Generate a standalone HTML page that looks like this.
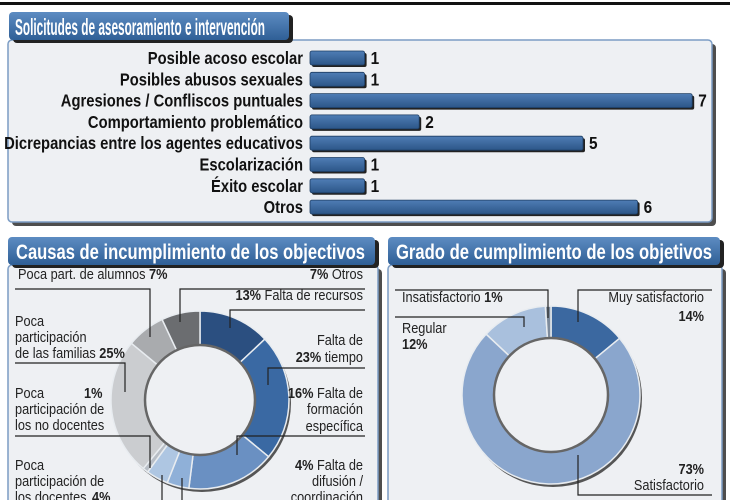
<!DOCTYPE html>
<html><head><meta charset="utf-8">
<style>
html,body{margin:0;padding:0;background:#fff;}
svg{display:block;font-family:"Liberation Sans",sans-serif;}
</style></head>
<body>
<svg id="chart" width="730" height="500" viewBox="0 0 730 500" xmlns="http://www.w3.org/2000/svg">
<defs>
<linearGradient id="tab" x1="0" y1="0" x2="0" y2="1"><stop offset="0" stop-color="#5d8cc2"/><stop offset="1" stop-color="#2f5f96"/></linearGradient>
<linearGradient id="bar" x1="0" y1="0" x2="0" y2="1"><stop offset="0" stop-color="#4f7db5"/><stop offset="1" stop-color="#2c5688"/></linearGradient>
</defs>
<rect x="0" y="2" width="730" height="3" fill="#111"/>
<!-- panel 1 -->
<rect x="12" y="44" width="704" height="182" rx="4" fill="#222" opacity="0.8"/>
<rect x="8" y="40" width="704" height="182" rx="4" fill="#eef0f3" stroke="#7b9cc4" stroke-width="1.5"/>
<rect x="13" y="15" width="280" height="28" rx="4" fill="#222"/>
<rect x="9" y="12" width="280" height="28" rx="4" fill="url(#tab)"/>
<text x="15" y="35" textLength="250" lengthAdjust="spacingAndGlyphs" font-size="23" font-weight="bold" fill="#fff">Solicitudes de asesoramiento e intervención</text>
<g id="bars"></g>
<!-- panel 2 -->
<rect x="12" y="269" width="370" height="240" rx="4" fill="#222" opacity="0.8"/>
<rect x="8" y="265" width="370" height="240" rx="4" fill="#eef0f3" stroke="#7b9cc4" stroke-width="1.5"/>
<rect x="12" y="240" width="367" height="28" rx="4" fill="#222"/>
<rect x="8" y="237" width="367" height="28" rx="4" fill="url(#tab)"/>
<text x="16" y="259" textLength="349" lengthAdjust="spacingAndGlyphs" font-size="21" font-weight="bold" fill="#fff">Causas de incumplimiento de los objectivos</text>
<!-- panel 3 -->
<rect x="392" y="269" width="334" height="240" rx="4" fill="#222" opacity="0.8"/>
<rect x="388" y="265" width="334" height="240" rx="4" fill="#eef0f3" stroke="#7b9cc4" stroke-width="1.5"/>
<rect x="392" y="240" width="332" height="28" rx="4" fill="#222"/>
<rect x="388" y="237" width="332" height="28" rx="4" fill="url(#tab)"/>
<text x="396" y="259" textLength="316" lengthAdjust="spacingAndGlyphs" font-size="21" font-weight="bold" fill="#fff">Grado de cumplimiento de los objetivos</text>
<g id="donut1"></g>
<g id="donut2"></g>
<g id="labels" fill="none" stroke="#222" stroke-width="1.2"></g>
<g id="texts" font-size="14" fill="#222"></g>
</svg>
<script>
const barCategories=["Posible acoso escolar","Posibles abusos sexuales","Agresiones / Confliscos puntuales","Comportamiento problemático","Dicrepancias entre los agentes educativos","Escolarización","Éxito escolar","Otros"];
const barValues=[1,1,7,2,5,1,1,6];
const causeNames=["Falta de recursos","Falta de tiempo","Falta de formación específica","Falta de difusión / coordinación","Poca participación de los docentes","Poca participación de los no docentes","Poca participación de las familias","Poca part. de alumnos","Otros"];
const causeValues=[13,23,16,4,4,1,25,7,7];
const causeColors=["#2b4f80","#3a69a3","#6a90c2","#8fb0d8","#aec6e2","#b8bec6","#cbcdd0","#a9abae","#6b6d70"];
const gradeNames=["Muy satisfactorio","Satisfactorio","Regular","Insatisfactorio"];
const gradeValues=[14,73,12,1];
const gradeColors=["#3b68a0","#8aa6cd","#a9c0dd","#7d8b9c"];

const NS="http://www.w3.org/2000/svg";
function mk(tag,attrs,parent){const e=document.createElementNS(NS,tag);for(const k in attrs)e.setAttribute(k,attrs[k]);parent.appendChild(e);return e;}
const x0=310, unit=54.6;
const xs=v=>x0+v*unit;
const ys=i=>58+i*21.3;
const bars=document.getElementById('bars');
barCategories.forEach((c,i)=>{
  const y=ys(i);
  const t=mk('text',{transform:`translate(303,${y+6}) scale(0.845,1)`,'text-anchor':'end','font-size':'17.5','font-weight':'bold',fill:'#111'},bars);
  t.textContent=c;
  
  
  mk('rect',{x:x0+2,y:y-5,width:xs(barValues[i])-x0,height:14,rx:2,fill:'#222'},bars);
  const r=mk('rect',{x:x0,y:y-7,width:xs(barValues[i])-x0,height:14,rx:2,fill:'url(#bar)',stroke:'#1d3d63','stroke-width':0.8},bars);
  
  
  const v=mk('text',{transform:`translate(${xs(barValues[i])+6},${y+6}) scale(0.88,1)`,'font-size':'17.5','font-weight':'bold',fill:'#111'},bars);
  v.textContent=barValues[i];
  
  
});
function arc(cx,cy,R,r,a0,a1){
  const p=(rad,a)=>[cx+rad*Math.sin(a),cy-rad*Math.cos(a)];
  const lg=(a1-a0)>Math.PI?1:0;
  const [x1,y1]=p(R,a0),[x2,y2]=p(R,a1),[x3,y3]=p(r,a1),[x4,y4]=p(r,a0);
  return `M${x1},${y1}A${R},${R} 0 ${lg} 1 ${x2},${y2}L${x3},${y3}A${r},${r} 0 ${lg} 0 ${x4},${y4}Z`;
}
function donut(g,cx,cy,R,r,vals,cols,name){
  mk('circle',{cx:cx+2,cy:cy+3,r:R,fill:'#555'},g);
  const tot=vals.reduce((a,b)=>a+b,0);let a=0;
  vals.forEach((v,i)=>{
    const a0=a/tot*2*Math.PI;a+=v;const a1=a/tot*2*Math.PI;
    const p=mk('path',{d:arc(cx,cy,R,r,a0,a1),fill:cols[i],stroke:'#e8ecf0','stroke-width':1.5},g);
    
    
  });
  mk('circle',{cx:cx,cy:cy,r:r,fill:'#eef0f3',stroke:'#666','stroke-width':2.5},g);
}
donut(document.getElementById('donut1'),200,400,89,55,causeValues,causeColors,'cause-slice');
donut(document.getElementById('donut2'),551,395,89,57,gradeValues,gradeColors,'grade-slice');
const L=document.getElementById('labels');
const lines=["M15,289H150V337","M180,322V289H365","M230,328V310H365","M15,363H125V392","M268,385V368H365","M15,436H150V468","M237,455V436H365","M162,475V500","M182,478V500",
"M395,290H548V318","M395,317H524V327","M578,322V290H712","M578,455V495H712"];
lines.forEach(d=>{const p=mk('path',{d},L);});
const T=document.getElementById('texts');
const labels=[
[18,279,'start','Poca part. de alumnos <tspan font-weight="bold">7%</tspan>'],
[363,279,'end','<tspan font-weight="bold">7%</tspan>  Otros'],
[363,300,'end','<tspan font-weight="bold">13%</tspan> Falta de recursos'],
[15,326,'start','Poca'],[15,342,'start','participación'],[15,358,'start','de las familias <tspan font-weight="bold">25%</tspan>'],
[363,345,'end','Falta de'],[363,362,'end','<tspan font-weight="bold">23%</tspan> tiempo'],
[15,398,'start','Poca'],[84,398,'start','<tspan font-weight="bold">1%</tspan>'],[15,414,'start','participación de'],[15,430,'start','los no docentes'],
[363,398,'end','<tspan font-weight="bold">16%</tspan> Falta de'],[363,414,'end','formación'],[363,431,'end','específica'],
[15,470,'start','Poca'],[15,486,'start','participación de'],[15,502,'start','los docentes'],[92,502,'start','<tspan font-weight="bold">4%</tspan>'],
[363,470,'end','<tspan font-weight="bold">4%</tspan>  Falta de'],[363,486,'end','difusión /'],[363,502,'end','coordinación'],
[402,302,'start','Insatisfactorio  <tspan font-weight="bold">1%</tspan>'],
[402,333,'start','Regular'],[402,349,'start','<tspan font-weight="bold">12%</tspan>'],
[704,302,'end','Muy satisfactorio'],[704,321,'end','<tspan font-weight="bold">14%</tspan>'],
[704,474,'end','<tspan font-weight="bold">73%</tspan>'],[704,490,'end','Satisfactorio']
];
labels.forEach(([x,y,anc,html])=>{
  const t=mk('text',{transform:`translate(${x},${y}) scale(0.88,1)`,'text-anchor':anc,'xml:space':'preserve','font-size':'14.5'},T);
  t.innerHTML=html;
  
  
});
</script>
</body></html>
